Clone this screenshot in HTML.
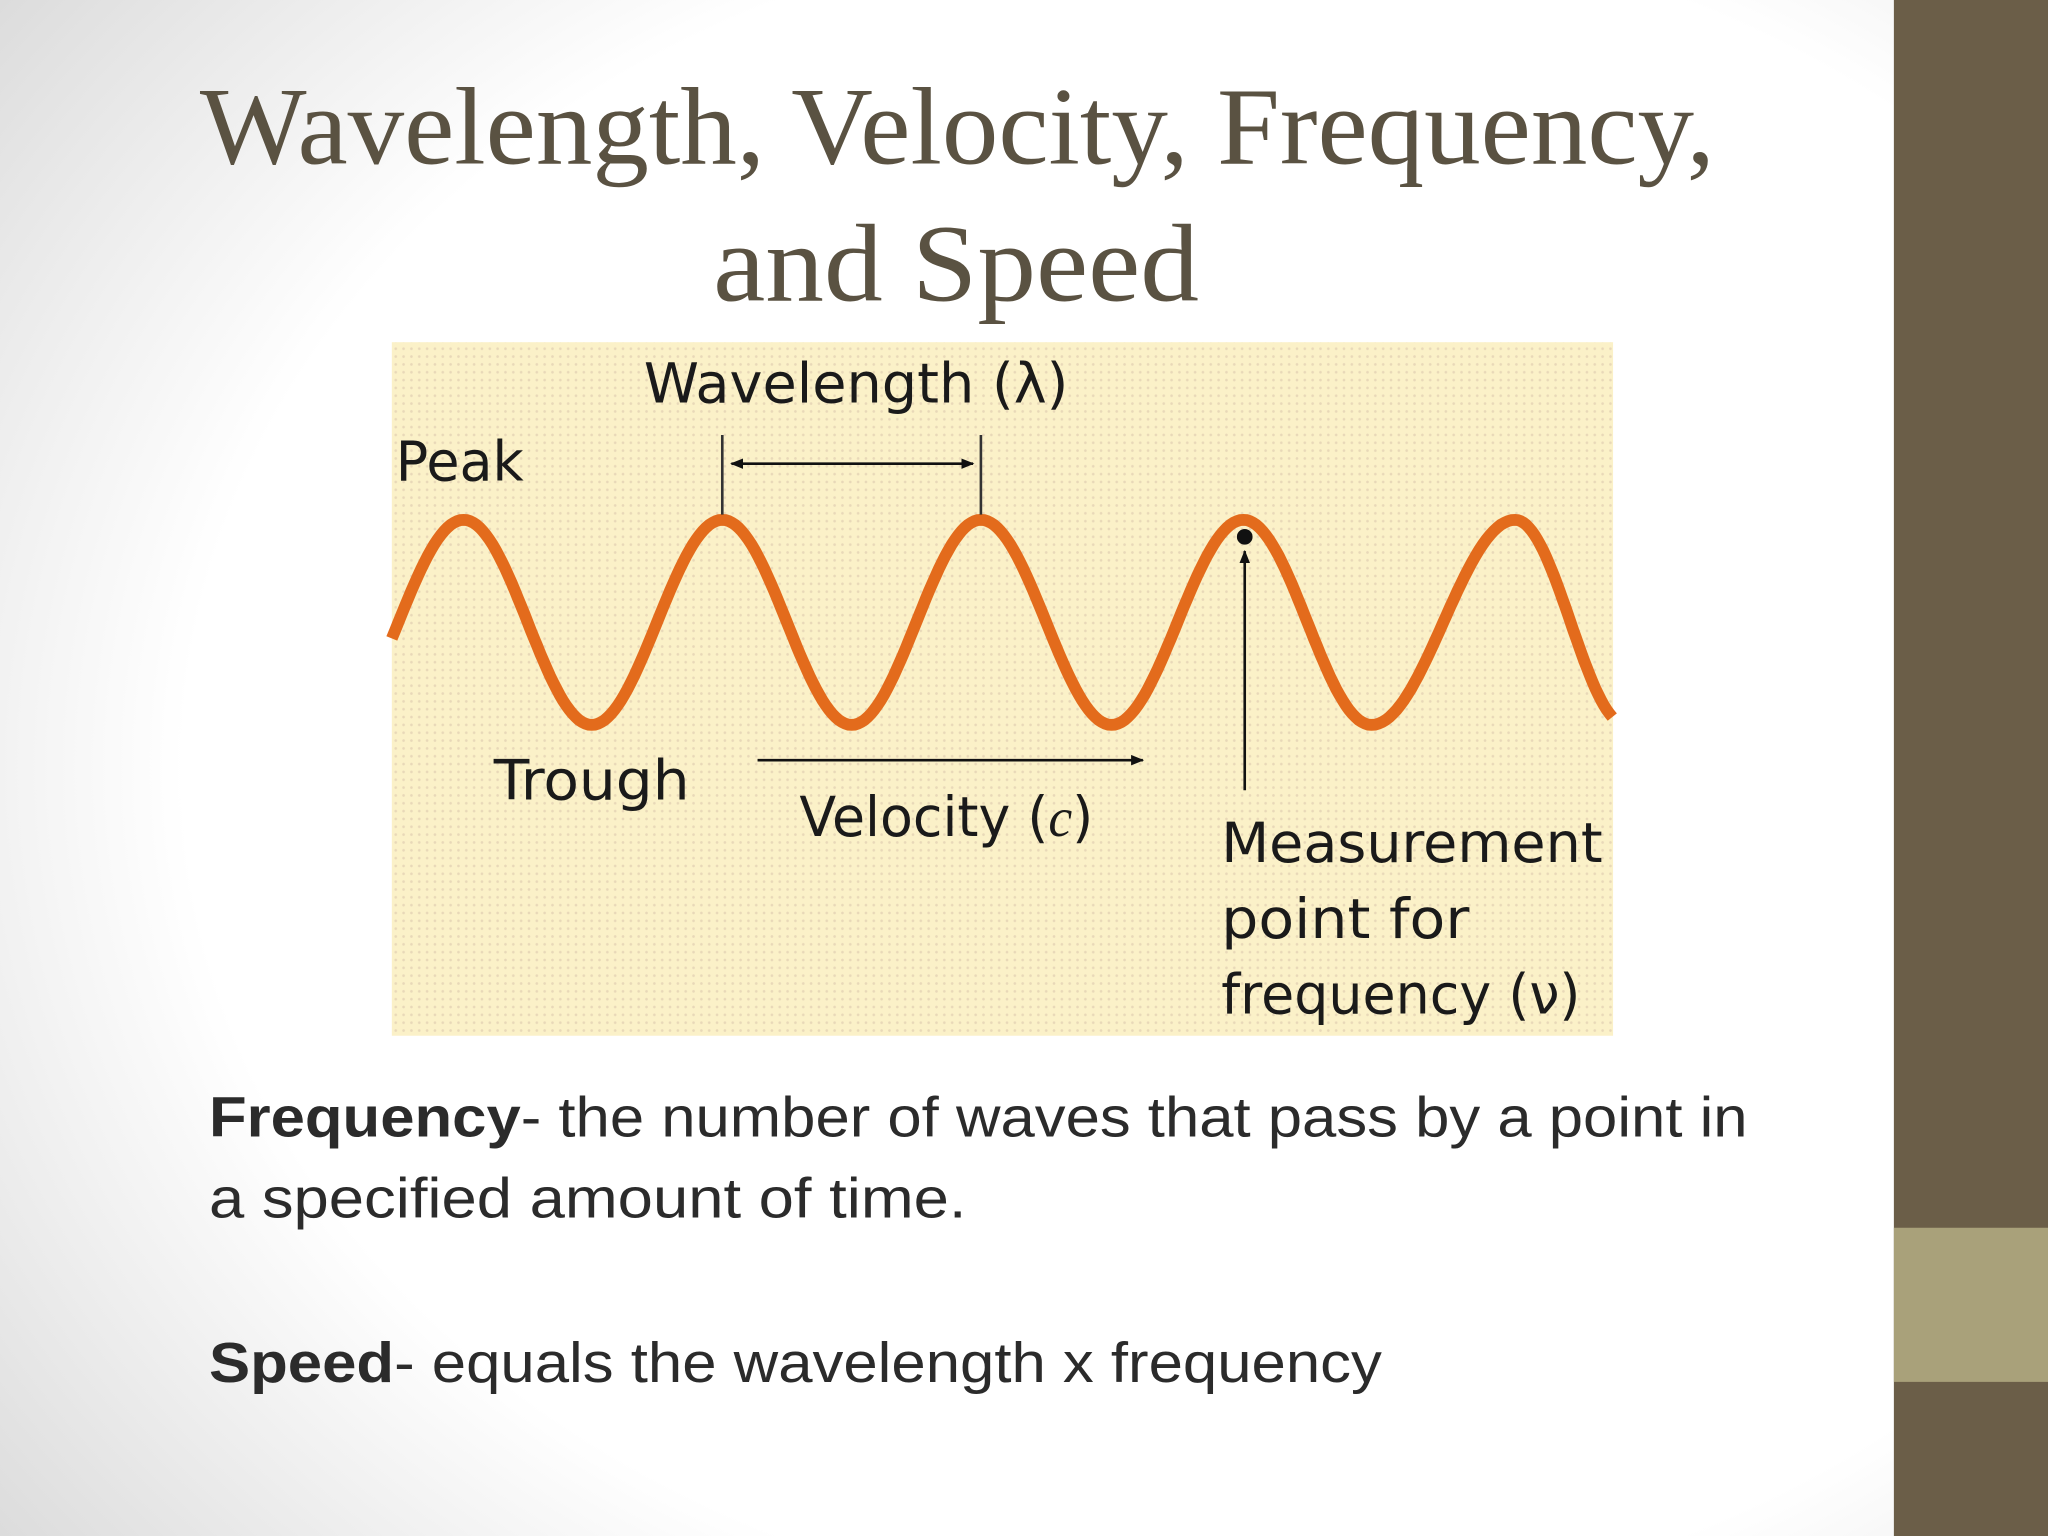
<!DOCTYPE html>
<html><head><meta charset="utf-8"><style>
html,body{margin:0;padding:0;width:2048px;height:1536px;overflow:hidden;background:#fff}
svg{display:block}
</style></head><body>
<svg width="2048" height="1536" viewBox="0 0 1568 1176" xmlns="http://www.w3.org/2000/svg">
<defs>
<radialGradient id="vig" cx="0.65" cy="0.5" r="0.85">
<stop offset="0.65" stop-color="#ffffff"/><stop offset="1" stop-color="#d8d8d8"/>
</radialGradient>
<pattern id="dots" width="6" height="6" patternUnits="userSpaceOnUse">
<rect width="6" height="6" fill="#fbf1c8"/>
<circle cx="3" cy="3" r="1" fill="#e8d8b8"/>
</pattern>
<marker id="ah" markerWidth="10" markerHeight="8" refX="9" refY="4" orient="auto" markerUnits="userSpaceOnUse">
<path d="M0,0 L10,4 L0,8 Z" fill="#111"/></marker>
<marker id="ahs" markerWidth="10" markerHeight="8" refX="1" refY="4" orient="auto" markerUnits="userSpaceOnUse">
<path d="M10,0 L0,4 L10,8 Z" fill="#111"/></marker>
</defs>
<rect x="0" y="0" width="1450" height="1176" fill="url(#vig)"/>
<rect x="1450" y="0" width="118" height="1176" fill="#6b5e48"/>
<rect x="1450" y="940" width="118" height="118" fill="#a9a17a"/>
<g font-family="Liberation Serif, serif" fill="#5a5242" font-size="84" text-anchor="middle">
<text x="733" y="125" textLength="1160" lengthAdjust="spacingAndGlyphs">Wavelength, Velocity, Frequency,</text>
<text x="732" y="230" textLength="372" lengthAdjust="spacingAndGlyphs">and Speed</text>
</g>
<g>
<rect x="300" y="262" width="935" height="531" fill="url(#dots)"/>
<path id="wave" fill="none" stroke="#e36b1c" stroke-width="9" stroke-linecap="butt"/>
<g font-family="DejaVu Sans, Liberation Sans, sans-serif" fill="#1a1a1a" font-size="42">
<text x="493" y="308" textLength="325" lengthAdjust="spacingAndGlyphs">Wavelength (λ)</text>
<text x="303" y="368" textLength="98" lengthAdjust="spacingAndGlyphs">Peak</text>
<text x="378" y="612" textLength="150" lengthAdjust="spacingAndGlyphs">Trough</text>
<text x="612" y="640" textLength="225" lengthAdjust="spacingAndGlyphs">Velocity (<tspan font-family="Liberation Serif, serif" font-style="italic">c</tspan>)</text>
<text x="935" y="660" textLength="292" lengthAdjust="spacingAndGlyphs">Measurement</text>
<text x="935" y="718" textLength="190" lengthAdjust="spacingAndGlyphs">point for</text>
<text x="935" y="776" textLength="275" lengthAdjust="spacingAndGlyphs">frequency (ν)</text>
</g>
<g stroke="#333" stroke-width="2">
<line x1="553" y1="333" x2="553" y2="394"/>
<line x1="751" y1="333" x2="751" y2="394"/>
<line x1="560" y1="355" x2="745" y2="355" stroke="#111" marker-start="url(#ahs)" marker-end="url(#ah)"/>
<line x1="580" y1="582" x2="875" y2="582" stroke="#111" marker-end="url(#ah)"/>
<line x1="953" y1="605" x2="953" y2="422" stroke="#111" marker-end="url(#ah)"/>
</g>
<circle cx="953" cy="411" r="6" fill="#111"/>
</g>
<g font-family="Liberation Sans, sans-serif" font-size="43" fill="#2b2b2b">
<text x="160" y="870" textLength="1178" lengthAdjust="spacingAndGlyphs"><tspan font-weight="bold">Frequency</tspan>- the number of waves that pass by a point in</text>
<text x="160" y="932" textLength="580" lengthAdjust="spacingAndGlyphs">a specified amount of time.</text>
<text x="160" y="1058" textLength="898" lengthAdjust="spacingAndGlyphs"><tspan font-weight="bold">Speed</tspan>- equals the wavelength x frequency</text>
</g>
</svg>
<script>
const extremaX = [255, 355, 453, 553, 652, 751, 851, 952, 1050, 1160, 1245];
const extremaY = [555, 398, 555, 398, 555, 398, 555, 398, 555, 398, 555];
const clipLeft = 300, clipRight = 1235;
(function(){
  let pts = [];
  for (let i = 0; i < extremaX.length - 1; i++) {
    const x0 = extremaX[i], x1 = extremaX[i+1], y0 = extremaY[i], y1 = extremaY[i+1];
    for (let s = 0; s <= 40; s++) {
      const t = s / 40;
      const x = x0 + (x1 - x0) * t;
      const y = y0 + (y1 - y0) * (1 - Math.cos(Math.PI * t)) / 2;
      if (x >= clipLeft && x <= clipRight) pts.push([x, y]);
    }
  }
  const d = pts.map((p, i) => (i ? 'L' : 'M') + p[0].toFixed(1) + ',' + p[1].toFixed(1)).join(' ');
  document.getElementById('wave').setAttribute('d', d);
})();
</script>
</body></html>
